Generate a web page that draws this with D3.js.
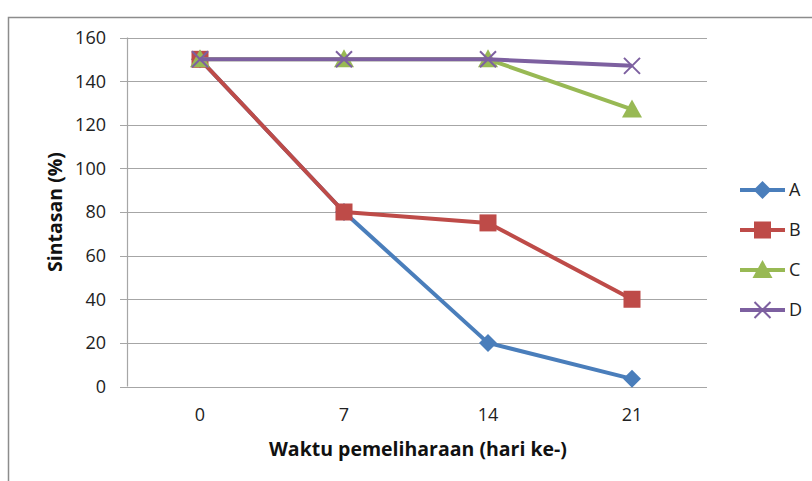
<!DOCTYPE html>
<html><head><meta charset="utf-8">
<script src="https://cdn.jsdelivr.net/npm/d3@7"></script>
<style>body{margin:0;background:#fff}</style>
</head><body>
<svg id="c" width="812" height="481"></svg>
<script>
const categories = ["0", "7", "14", "21"];
const seriesA = [150, 80, 20, 3.5];
const seriesB = [150, 80, 75, 40];
const seriesC = [150, 150, 150, 127];
const seriesD = [150, 150, 150, 147];
const seriesNames = ["A", "B", "C", "D"];
const yTicks = [0, 20, 40, 60, 80, 100, 120, 140, 160];
const colors = ["#4a7ebb", "#be4b48", "#98b954", "#7d60a0"];
const symbols = ["diamond", "square", "triangle", "cross"];

const series = [seriesA, seriesB, seriesC, seriesD];
const svg = d3.select("#c");
const font = "'Open Sans', Lato, sans-serif";

// frame
svg.append("rect").attr("x", 8.5).attr("y", 17.5).attr("width", 900).attr("height", 600)
  .attr("fill", "#fff").attr("stroke", "#8c8c8c").attr("stroke-width", 1.5);

const x = d3.scaleBand().domain(categories).range([128, 704]);
const y = d3.scaleLinear().domain([0, 160]).range([386.5, 37.5]);

// gridlines
svg.append("g").selectAll("line").data(yTicks).join("line")
  .attr("x1", 120).attr("x2", 707)
  .attr("y1", d => Math.round(y(d)) + 0.5).attr("y2", d => Math.round(y(d)) + 0.5)
  .attr("stroke", "#a6a6a6").attr("stroke-width", 1.2);
svg.append("line").attr("x1", 127.5).attr("x2", 127.5).attr("y1", y(160)).attr("y2", y(0))
  .attr("stroke", "#a6a6a6").attr("stroke-width", 1.2);

// y tick labels
svg.append("g").selectAll("text").data(yTicks).join("text")
  .attr("x", 106).attr("y", d => y(d)).attr("dy", "0.36em")
  .attr("text-anchor", "end").attr("font-family", font).attr("font-size", 18)
  .attr("fill", "#222").text(d => d);

// x tick labels
svg.append("g").selectAll("text").data(categories).join("text")
  .attr("x", d => x(d) + x.bandwidth() / 2).attr("y", 415).attr("dy", "0.36em")
  .attr("text-anchor", "middle").attr("font-family", font).attr("font-size", 18)
  .attr("fill", "#222").text(d => d);

// axis titles
svg.append("text").attr("x", 418).attr("y", 449).attr("dy", "0.36em")
  .attr("text-anchor", "middle").attr("font-family", font).attr("font-size", 19.5)
  .attr("font-weight", "bold").attr("fill", "#111").text("Waktu pemeliharaan (hari ke-)");
svg.append("text").attr("transform", "translate(55,212) rotate(-90)").attr("dy", "0.36em")
  .attr("text-anchor", "middle").attr("font-family", font).attr("font-size", 19.5)
  .attr("font-weight", "bold").attr("fill", "#111").text("Sintasan (%)");

const line = d3.line().x((d, i) => x(categories[i]) + x.bandwidth() / 2).y(d => y(d));

function marker(g, type, cx, cy, color) {
  if (type === "diamond") {
    g.append("path").attr("d", `M${cx},${cy-9}L${cx+9},${cy}L${cx},${cy+9}L${cx-9},${cy}Z`).attr("fill", color);
  } else if (type === "square") {
    g.append("rect").attr("x", cx - 8.5).attr("y", cy - 8.5).attr("width", 17).attr("height", 17).attr("fill", color);
  } else if (type === "triangle") {
    g.append("path").attr("d", `M${cx},${cy-10}L${cx+10},${cy+8}L${cx-10},${cy+8}Z`).attr("fill", color);
  } else {
    g.append("path").attr("d", `M${cx-8},${cy-8}L${cx+8},${cy+8}M${cx-8},${cy+8}L${cx+8},${cy-8}`)
      .attr("stroke", color).attr("stroke-width", 2);
  }
}

series.forEach((s, k) => {
  const g = svg.append("g");
  g.append("path").datum(s).attr("d", line).attr("fill", "none")
    .attr("stroke", colors[k]).attr("stroke-width", 4).attr("stroke-linejoin", "round");
  s.forEach((v, i) => marker(g, symbols[k], x(categories[i]) + x.bandwidth() / 2, y(v), colors[k]));
});

// legend
const ly = d3.scalePoint().domain(seriesNames).range([190, 310]);
seriesNames.forEach((n, k) => {
  const g = svg.append("g");
  const cy = ly(n);
  g.append("line").attr("x1", 740).attr("x2", 785).attr("y1", cy).attr("y2", cy)
    .attr("stroke", colors[k]).attr("stroke-width", 4);
  marker(g, symbols[k], 762.5, cy, colors[k]);
  g.append("text").attr("x", 789).attr("y", cy).attr("dy", "0.36em")
    .attr("font-family", font).attr("font-size", 18).attr("fill", "#222").text(n);
});
</script>
</body></html>
